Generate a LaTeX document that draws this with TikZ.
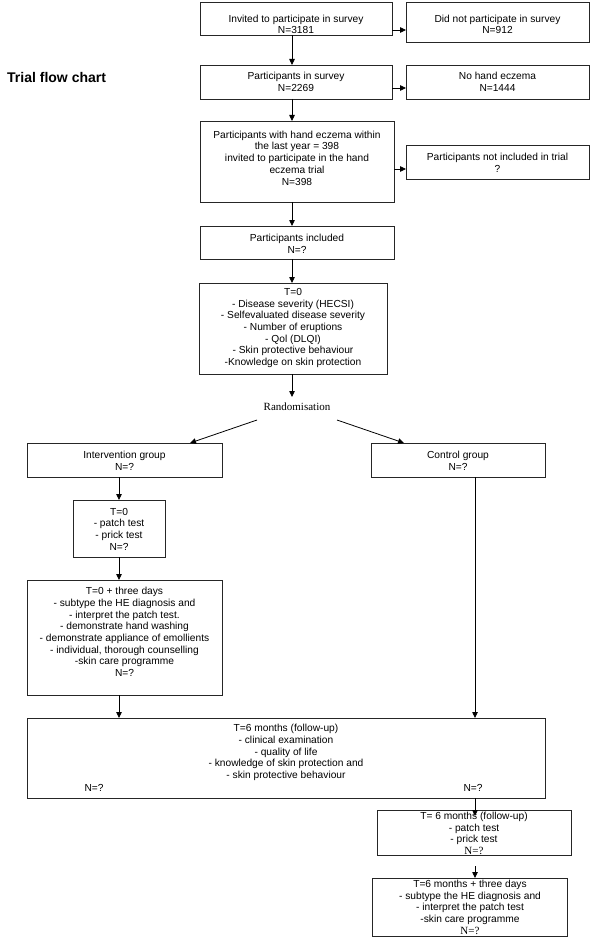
\documentclass[tikz,border=0pt]{standalone}
\usepackage{fontspec}
\setmainfont{Liberation Sans}
\newfontfamily\serifface{Liberation Serif}
\usetikzlibrary{arrows.meta}
\begin{document}
\begin{tikzpicture}[x=1pt,y=-1pt,
  box/.style={draw=black!85, line width=0.8pt, inner sep=0pt, outer sep=0pt, anchor=north west},
  txt/.style={align=center, inner sep=0pt, font=\fontsize{10.2}{11.7}\selectfont},
  sertxt/.style={inner sep=0pt, font=\serifface\fontsize{11}{13}\selectfont},
  arr/.style={line width=0.8pt, -{Triangle[length=6pt,width=5.5pt]}},
]
\fill[white] (0,0) rectangle (600,944);
\useasboundingbox (0,0) rectangle (600,944);

\node[anchor=west, inner sep=0pt, font=\bfseries\fontsize{14}{16}\selectfont] (title) at (7,77) {Trial flow chart};

% boxes
\node[box, minimum width=192pt, minimum height=33pt] (b1) at (200,2) {};
\node[box, minimum width=183pt, minimum height=40pt] (b2) at (406,2) {};
\node[box, minimum width=192pt, minimum height=34pt] (b3) at (200,65) {};
\node[box, minimum width=183pt, minimum height=34pt] (b4) at (406,65) {};
\node[box, minimum width=194pt, minimum height=81pt] (b5) at (200,121) {};
\node[box, minimum width=183pt, minimum height=34pt] (b6) at (406,145) {};
\node[box, minimum width=194pt, minimum height=33pt] (b7) at (200,226) {};
\node[box, minimum width=188pt, minimum height=91pt] (b8) at (199,283) {};
\node[box, minimum width=195pt, minimum height=34pt] (int) at (27,443) {};
\node[box, minimum width=174pt, minimum height=34pt] (ctrl) at (371,443) {};
\node[box, minimum width=92pt, minimum height=57pt] (b9) at (73,500) {};
\node[box, minimum width=195pt, minimum height=115pt] (b10) at (27,580) {};
\node[box, minimum width=518pt, minimum height=80pt] (b11) at (27,718) {};
\node[box, minimum width=194pt, minimum height=45pt] (b12) at (377,810) {};
\node[box, minimum width=195pt, minimum height=58pt] (b13) at (372,878) {};

% texts
\node[txt] (t1) at (296,24.5) {Invited to participate in survey\\N=3181};
\node[txt] (t2) at (497.5,24.5) {Did not participate in survey\\N=912};
\node[txt] (t3) at (296,82) {Participants in survey\\N=2269};
\node[txt] (t4) at (497.5,82) {No hand eczema\\N=1444};
\node[txt] (t5) at (297,158) {Participants with hand eczema within\\the last year = 398\\invited to participate in the hand\\eczema trial\\N=398};
\node[txt] (t6) at (497.5,163) {Participants not included in trial\\?};
\node[txt] (t7) at (297,244) {Participants included\\N=?};
\node[txt] (t8) at (293,328) {T=0\\- Disease severity (HECSI)\\- Selfevaluated disease severity\\- Number of eruptions\\- Qol (DLQI)\\- Skin protective behaviour\\-Knowledge on skin protection};
\node[sertxt] (rand) at (297,407) {Randomisation};
\node[txt] (tint) at (124.5,460.5) {Intervention group\\N=?};
\node[txt] (tctrl) at (458,460.5) {Control group\\N=?};
\node[txt] (t9) at (119,529) {T=0\\- patch test\\- prick test\\N=?};
\node[txt] (t10) at (124.5,632) {T=0 + three days\\- subtype the HE diagnosis and\\- interpret the patch test.\\- demonstrate hand washing\\- demonstrate appliance of emollients\\- individual, thorough counselling\\-skin care programme\\N=?};
\node[txt] (t11) at (286,752.5) {T=6 months (follow-up)\\- clinical examination\\- quality of life\\- knowledge of skin protection and\\- skin protective behaviour};
\node[txt] (t11l) at (94,788) {N=?};
\node[txt] (t11r) at (473,788) {N=?};
\node[txt] (t12) at (474,828.5) {T= 6 months (follow-up)\\- patch test\\- prick test};
\node[sertxt] (t12n) at (474,850.5) {N=?};
\node[txt] (t13) at (470,902.5) {T=6 months + three days\\- subtype the HE diagnosis and\\- interpret the patch test\\-skin care programme};
\node[sertxt] (t13n) at (470,930.5) {N=?};

% connectors
\coordinate (randtop) at (292,397);
\coordinate (rl) at (257,420);
\coordinate (rr) at (337,420);
\coordinate (m1) at (475,816);
\coordinate (m2) at (475,866);

\draw[arr] (b1.east |- 0,30) -- (b2.west |- 0,30);
\draw[arr] (b3.east |- 0,88) -- (b4.west |- 0,88);
\draw[arr] (b5.east |- 0,169) -- (b6.west |- 0,169);
\draw[arr] (b1.south -| 292,0) -- (b3.north -| 292,0);
\draw[arr] (b3.south -| 292,0) -- (b5.north -| 292,0);
\draw[arr] (b5.south -| 292,0) -- (b7.north -| 292,0);
\draw[arr] (b7.south -| 292,0) -- (b8.north -| 292,0);
\draw[arr] (b8.south -| randtop) -- (randtop);
\draw[arr] (rl) -- (int.north -| 190,0);
\draw[arr] (rr) -- (ctrl.north -| 404,0);
\draw[arr] (int.south -| 119,0) -- (b9.north -| 119,0);
\draw[arr] (b9.south -| 119,0) -- (b10.north -| 119,0);
\draw[arr] (b10.south -| 119,0) -- (b11.north -| 119,0);
\draw[arr] (ctrl.south -| 475,0) -- (b11.north -| 475,0);
\draw[arr] (b11.south -| m1) -- (m1);
\draw[arr] (m2) -- (b13.north -| m2);
\end{tikzpicture}
\end{document}
